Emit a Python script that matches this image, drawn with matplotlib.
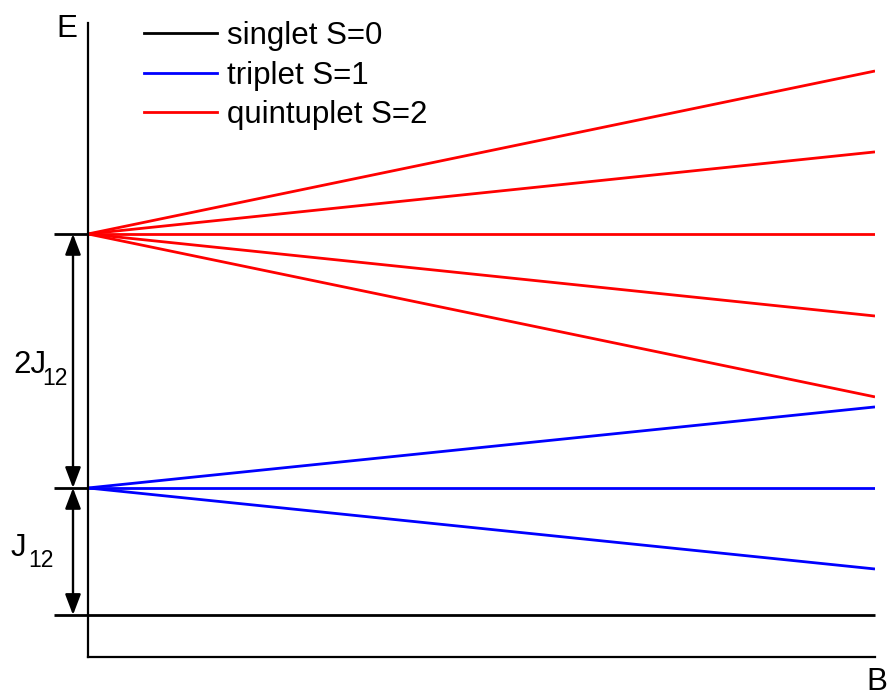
import matplotlib
matplotlib.use("Agg")
import matplotlib.pyplot as plt
from matplotlib.lines import Line2D

plt.rcParams['font.family'] = ['Liberation Sans', 'DejaVu Sans']

# ---- data (energies in units of J12, field B normalised 0..1) ----
B = [0.0, 1.0]
singlet_E0 = 0.0
triplet_E0 = 1.0
quintuplet_E0 = 3.0
triplet_end = [1.638, 1.0, 0.362]                       # m = +1, 0, -1
quintuplet_end = [4.283, 3.646, 3.0, 2.354, 1.717]      # m = +2 .. -2
labels = ["singlet S=0", "triplet S=1", "quintuplet S=2"]
colors = ["black", "#0000ff", "#ff0000"]
gap_labels = [("2J", "12"), ("J", "12")]

W, H = 896, 697
fig = plt.figure(figsize=(W / 100, H / 100), dpi=100)
ax = fig.add_axes([88 / W, 40 / H, 787 / W, 634 / H])
ax.set_xlim(0, 1)
ax.set_ylim(-0.331, 4.661)
for s in ("top", "right"):
    ax.spines[s].set_visible(False)
for s in ("left", "bottom"):
    ax.spines[s].set_linewidth(1.6)
ax.set_xticks([])
ax.set_yticks([])

lw = 2.0
tick_x = -34 / 787   # left extent of level ticks
arrow_x = -15 / 787

# singlet
ax.plot([tick_x, B[1]], [singlet_E0, singlet_E0], color=colors[0], lw=lw,
        clip_on=False, solid_capstyle='butt')
# level ticks
for e in (triplet_E0, quintuplet_E0):
    ax.plot([tick_x, 0], [e, e], color='black', lw=lw, clip_on=False,
            solid_capstyle='butt')
# triplet
for e1 in triplet_end:
    ax.plot(B, [triplet_E0, e1], color=colors[1], lw=lw, solid_capstyle='butt')
# quintuplet
for e1 in quintuplet_end:
    ax.plot(B, [quintuplet_E0, e1], color=colors[2], lw=lw, solid_capstyle='butt')

# double arrows
for lo, hi in ((triplet_E0, quintuplet_E0), (singlet_E0, triplet_E0)):
    ax.annotate('', xy=(arrow_x, hi), xytext=(arrow_x, lo),
                arrowprops=dict(arrowstyle='<|-|>,head_length=1.0,head_width=0.38',
                                mutation_scale=12.5, lw=1.7, color='black',
                                shrinkA=0, shrinkB=0),
                annotation_clip=False)

def px(x, y):
    return (x / W, 1 - y / H)

fs = 22.5
# gap labels
for (main, sub), (x0, yb, xs, ysb) in zip(gap_labels,
                                          [(13, 373, 42, 385), (11, 556, 28, 567)]):
    fig.text(*px(x0, yb), main, fontsize=fs, ha='left', va='baseline')
    fig.text(*px(xs, ysb), sub, fontsize=16.5, ha='left', va='baseline')

fig.text(*px(56, 37), "E", fontsize=fs, ha='left', va='baseline')
fig.text(*px(866, 690), "B", fontsize=fs, ha='left', va='baseline')

handles = [Line2D([], [], color=c, lw=lw) for c in colors]
ax.legend(handles, labels, loc='upper left', bbox_to_anchor=px(144, 21),
          bbox_transform=fig.transFigure, frameon=False, fontsize=fs,
          borderpad=0, borderaxespad=0, handlelength=2.35, handletextpad=0.29,
          labelspacing=0.31)

fig.savefig("out.png", dpi=100)
